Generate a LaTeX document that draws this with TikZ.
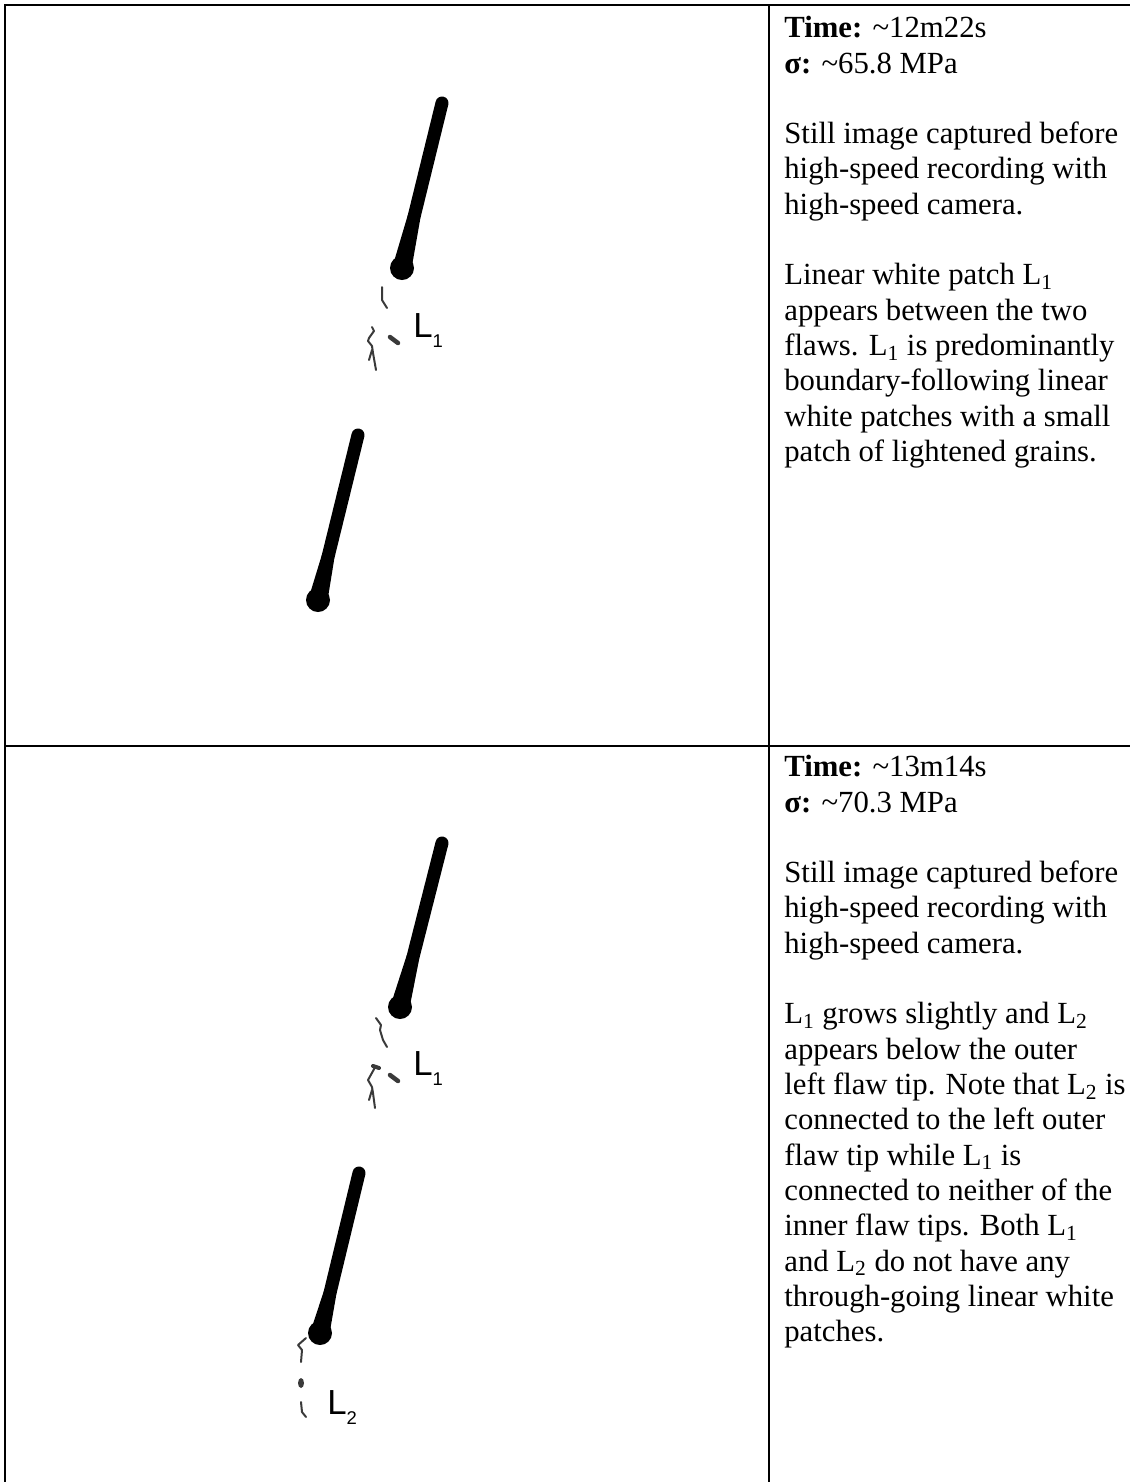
\documentclass[tikz,border=0pt]{standalone}
\usepackage{fontspec}
\setmainfont{Liberation Serif}
\newfontfamily\labelfont{Liberation Sans}
\usetikzlibrary{calc}
\definecolor{crackgray}{HTML}{3A3A3A}

\begin{document}
\begin{tikzpicture}[x=0.02cm, y=-0.02cm,
  every node/.style={font=\fontsize{17.5}{20.1}\selectfont},
  grid/.style={line width=0.04cm, black},
  crack/.style={line width=0.04cm, crackgray, line cap=round, line join=round},
  tag/.style={font=\labelfont\fontsize{19.8}{20}\selectfont, anchor=base west, inner sep=0pt},
  info/.style={anchor=north west, align=left, inner sep=0pt}]
  \useasboundingbox (0,0) rectangle (1130,1482);
  % table rules
  \draw[grid] (5,1482) -- (5,5) -- (1130,5);
  \draw[grid] (769,5) -- (769,1482);
  \draw[grid] (5,746) -- (1130,746);
  % flaws: top / kink / tip blob
  \foreach \xa/\ya/\xk/\yk/\xb/\yb in {442/103/414/217/402/268, 358/435/328/557/318/600,
                                       442/843/413/957/400/1007, 359/1173/330/1293/320/1333}{
    \coordinate (ft) at (\xa,\ya);
    \coordinate (fk) at (\xk,\yk);
    \coordinate (fb) at (\xb,\yb);
    \draw[line width=0.26cm, line cap=round] (ft) -- (fk);
    \fill ($(fk)!0.13cm!90:(ft)$) -- ($(fb)!0.19cm!90:(ft)$)
          -- ($(fb)!0.19cm!-90:(ft)$) -- ($(fk)!0.13cm!-90:(ft)$) -- cycle;
    \fill (fb) circle [radius=12];
  }
  % first stage: L1 between the flaws
  \draw[crack] (382,287) -- (382,300) -- (387,308);
  \draw[crack, line width=0.09cm] (390,337) -- (398,343);
  \draw[crack] (372,327) -- (374,331) -- (369,338) -- (368,341) -- (372,346) -- (373,353) -- (376,370);
  \draw[crack] (372,350) -- (369,360);
  \node[tag] (lone) at (413,337) {L\raisebox{-5.7pt}{\fontsize{10.5}{10}\selectfont 1}};
  % second stage: L1 grows, L2 below the lower flaw
  \draw[crack] (376,1018) -- (381,1025) -- (380,1030) -- (383,1040) -- (387,1047);
  \draw[crack, line width=0.09cm] (390,1075) -- (398,1081);
  \draw[crack, line width=0.08cm] (373,1066) -- (379,1068);
  \draw[crack] (375,1067) -- (373,1071) -- (368,1080) -- (372,1087) -- (373,1093) -- (375,1108);
  \draw[crack] (372,1090) -- (369,1100);
  \node[tag] (lonebis) at (413,1075) {L\raisebox{-5.7pt}{\fontsize{10.5}{10}\selectfont 1}};
  \draw[crack] (306,1338) -- (298,1345) -- (302,1350) -- (301,1362);
  \fill[crackgray] (301,1383) ellipse [x radius=3, y radius=5];
  \draw[crack] (301,1402) -- (302,1412) -- (306,1417);
  \node[tag] (ltwo) at (327,1414) {L\raisebox{-5.7pt}{\fontsize{10.5}{10}\selectfont 2}};
  % notes
  \node[info] (noteone) at (784,16) {\textbf{Time:} \textasciitilde12m22s\\
    \textbf{σ:} \textasciitilde65.8 MPa\\[20.1pt]
    Still image captured before\\
    high-speed recording with\\
    high-speed camera.\\[20.1pt]
    Linear white patch L\textsubscript{1}\\
    appears between the two\\
    flaws. L\textsubscript{1} is predominantly\\
    boundary-following linear\\
    white patches with a small\\
    patch of lightened grains.};
  \node[info] (notetwo) at (784,755) {\textbf{Time:} \textasciitilde13m14s\\
    \textbf{σ:} \textasciitilde70.3 MPa\\[20.1pt]
    Still image captured before\\
    high-speed recording with\\
    high-speed camera.\\[20.1pt]
    L\textsubscript{1} grows slightly and L\textsubscript{2}\\
    appears below the outer\\
    left flaw tip. Note that L\textsubscript{2} is\\
    connected to the left outer\\
    flaw tip while L\textsubscript{1} is\\
    connected to neither of the\\
    inner flaw tips. Both L\textsubscript{1}\\
    and L\textsubscript{2} do not have any\\
    through-going linear white\\
    patches.};
\end{tikzpicture}
\end{document}
